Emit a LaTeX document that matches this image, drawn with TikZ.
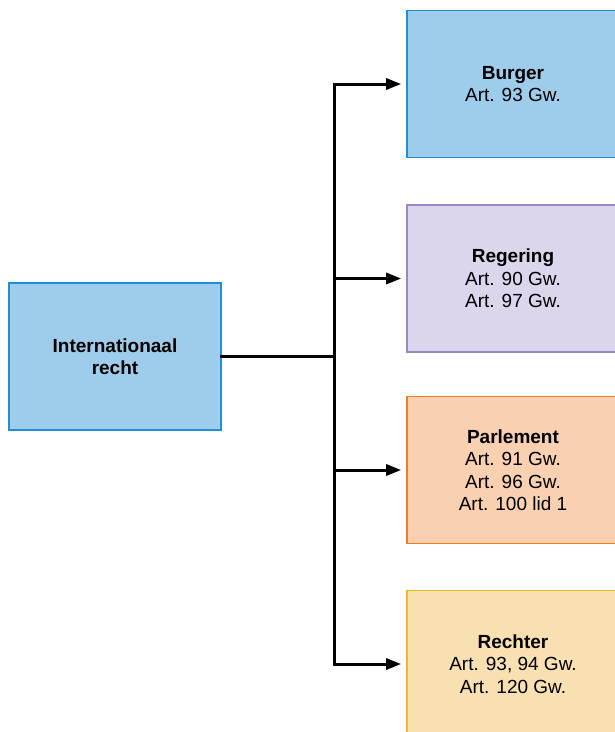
\documentclass[tikz,border=0pt]{standalone}
\usepackage{fontspec}
\setmainfont{Liberation Sans}
\usetikzlibrary{arrows.meta,positioning}

\definecolor{blauwfill}{HTML}{9DCDEA}
\definecolor{blauwrand}{HTML}{1E8FD8}
\definecolor{paarsfill}{HTML}{DCD6EC}
\definecolor{paarsrand}{HTML}{9C88C4}
\definecolor{oranjefill}{HTML}{F9D0B0}
\definecolor{oranjerand}{HTML}{F07E1E}
\definecolor{geelfill}{HTML}{F9E0B0}
\definecolor{geelrand}{HTML}{F0B820}

\tikzset{
  vak/.style={draw, line width=1.6pt, minimum width=212pt, minimum height=147pt,
    align=center, font=\fontsize{19}{22.5}\selectfont},
  lijn/.style={line width=3pt, line cap=rect},
  pijl/.style={lijn, -{Triangle[length=15pt,width=11pt]}, shorten >=5pt}
}

\begin{document}
\begin{tikzpicture}[x=1pt,y=-1pt]
    \useasboundingbox (0,0) rectangle (615,732);

    % bron
    \node[vak, fill=blauwfill, draw=blauwrand] (intl) at (115,356.5) {\textbf{Internationaal}\\\textbf{recht}};

    % actoren
    \node[vak, fill=blauwfill, draw=blauwrand] (burger) at (513,84) {\textbf{Burger}\\Art. 93 Gw.};
    \node[vak, fill=paarsfill, draw=paarsrand] (regering) at (513,278.5) {\textbf{Regering}\\Art. 90 Gw.\\Art. 97 Gw.};
    \node[vak, fill=oranjefill, draw=oranjerand] (parlement) at (513,470) {\textbf{Parlement}\\Art. 91 Gw.\\Art. 96 Gw.\\Art. 100 lid 1};
    \node[vak, fill=geelfill, draw=geelrand] (rechter) at (513,664) {\textbf{Rechter}\\Art. 93, 94 Gw.\\Art. 120 Gw.};

    % verbindingen
    \coordinate (split) at (334,356.5);
    \draw[lijn] (intl.east) -- (split);
    \draw[lijn] (split |- burger.west) -- (split |- rechter.west);
    \foreach \doel in {burger, regering, parlement, rechter}
      \draw[pijl] (split |- \doel.west) -- (\doel.west);
\end{tikzpicture}
\end{document}
